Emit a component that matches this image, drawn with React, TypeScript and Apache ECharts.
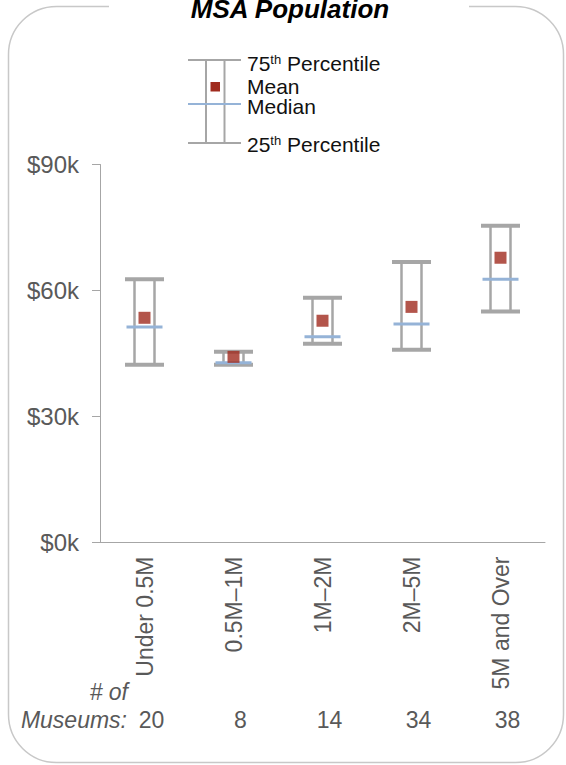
import React, { useEffect, useRef } from "react";
import * as echarts from "echarts";

const categories = ["Under 0.5M", "0.5M–1M", "1M–2M", "2M–5M", "5M and Over"];
const p25 = [42.3, 42.3, 47.3, 45.9, 55.0];
const p75 = [62.7, 45.4, 58.3, 66.8, 75.4];
const median = [51.3, 42.8, 49.0, 52.0, 62.7];
const mean = [53.5, 44.2, 52.8, 56.1, 67.8];
const counts = ["20", "8", "14", "34", "38"];
const yTicks = [0, 30, 60, 90];

const FONT = "Arial, 'Liberation Sans', sans-serif";
const GRAY_TXT = "#595959";
const BOX = "#a6a6a6";
const MED = "#95b3d7";
const MEAN = "#a02b1e";

export default function App() {
  const ref = useRef<HTMLDivElement>(null);
  useEffect(() => {
    document.body.style.margin = "0";
    const chart = echarts.init(ref.current!, null, { renderer: "svg" });
    const legendX = 188;
    const option: any = {
      animation: false,
      backgroundColor: "#ffffff",
      grid: { left: 100, right: 21, top: 164.5, bottom: 222.5 },
      xAxis: [
        {
          type: "category",
          data: categories,
          axisLine: { show: true, lineStyle: { color: BOX, width: 1 } },
          axisTick: { show: false },
          axisLabel: {
            rotate: 90,
            margin: 14,
            fontSize: 23,
            color: GRAY_TXT,
            fontFamily: FONT,
          },
        },
        {
          type: "category",
          position: "bottom",
          offset: 166,
          data: counts,
          axisLine: { show: false },
          axisTick: { show: false },
          axisLabel: {
            margin: 0,
            fontSize: 23,
            color: GRAY_TXT,
            fontFamily: FONT,
            padding: [0, 0, 0, 14],
          },
        },
      ],
      yAxis: {
        type: "value",
        min: yTicks[0],
        max: yTicks[yTicks.length - 1],
        interval: 30,
        splitLine: { show: false },
        axisLine: { show: true, lineStyle: { color: BOX, width: 1 } },
        axisTick: { show: true, length: 8, lineStyle: { color: BOX } },
        axisLabel: {
          margin: 21,
          fontSize: 24,
          color: GRAY_TXT,
          fontFamily: FONT,
          formatter: (v: number) => "$" + v + "k",
        },
      },
      series: [
        {
          type: "custom",
          xAxisIndex: 0,
          data: categories.map((c, i) => [i, p25[i], p75[i], median[i]]),
          encode: { x: 0, y: [1, 2, 3] },
          renderItem: (params: any, api: any) => {
            const x = api.value(0);
            const lo = api.coord([x, api.value(1)]);
            const hi = api.coord([x, api.value(2)]);
            const md = api.coord([x, api.value(3)]);
            const cx = hi[0];
            return {
              type: "group",
              children: [
                { type: "line", shape: { x1: cx - 10, y1: hi[1], x2: cx - 10, y2: lo[1] }, style: { stroke: BOX, lineWidth: 2.5 } },
                { type: "line", shape: { x1: cx + 10, y1: hi[1], x2: cx + 10, y2: lo[1] }, style: { stroke: BOX, lineWidth: 2.5 } },
                { type: "line", shape: { x1: cx - 19.5, y1: hi[1], x2: cx + 19.5, y2: hi[1] }, style: { stroke: BOX, lineWidth: 4 } },
                { type: "line", shape: { x1: cx - 19.5, y1: lo[1], x2: cx + 19.5, y2: lo[1] }, style: { stroke: BOX, lineWidth: 4 } },
                { type: "line", shape: { x1: cx - 18, y1: md[1], x2: cx + 18, y2: md[1] }, style: { stroke: MED, lineWidth: 3 } },
              ],
            };
          },
          z: 2,
        },
        {
          type: "scatter",
          xAxisIndex: 0,
          data: mean,
          symbol: "rect",
          symbolSize: 12,
          itemStyle: { color: MEAN },
          z: 3,
        },
      ],
      graphic: [
        {
          type: "rect",
          shape: { x: 8.5, y: 6.5, width: 555, height: 756, r: 48 },
          style: { fill: "none", stroke: "#c8c8c8", lineWidth: 1.5 },
          silent: true,
        },
        {
          type: "rect",
          shape: { x: 109, y: 0, width: 360, height: 14 },
          style: { fill: "#ffffff" },
          silent: true,
        },
        {
          type: "text",
          x: 290,
          y: 9,
          style: {
            text: "MSA Population",
            font: "italic bold 26px " + FONT,
            fill: "#000000",
            textAlign: "center",
            textVerticalAlign: "middle",
          },
        },
        // legend
        { type: "line", shape: { x1: legendX, y1: 60, x2: legendX + 53, y2: 60 }, style: { stroke: BOX, lineWidth: 2 } },
        { type: "line", shape: { x1: legendX, y1: 143, x2: legendX + 53, y2: 143 }, style: { stroke: BOX, lineWidth: 2 } },
        { type: "line", shape: { x1: 206, y1: 60, x2: 206, y2: 143 }, style: { stroke: BOX, lineWidth: 2 } },
        { type: "line", shape: { x1: 224.5, y1: 60, x2: 224.5, y2: 143 }, style: { stroke: BOX, lineWidth: 2 } },
        { type: "line", shape: { x1: legendX, y1: 104, x2: legendX + 53, y2: 104 }, style: { stroke: MED, lineWidth: 2 } },
        { type: "rect", shape: { x: 210.5, y: 82, width: 9.5, height: 9.5 }, style: { fill: MEAN } },
        {
          type: "text",
          x: 247,
          y: 63,
          style: {
            text: "{a|75}{s|th}{a| Percentile}",
            textVerticalAlign: "middle",
            rich: {
              a: { fontSize: 21, fontFamily: FONT, fill: "#111111" },
              s: { fontSize: 13, fontFamily: FONT, fill: "#111111", verticalAlign: "top" },
            },
          },
        },
        {
          type: "text",
          x: 247,
          y: 86.6,
          style: { text: "Mean", fontSize: 21, fontFamily: FONT, fill: "#111111", textVerticalAlign: "middle" },
        },
        {
          type: "text",
          x: 247,
          y: 106.5,
          style: { text: "Median", fontSize: 21, fontFamily: FONT, fill: "#111111", textVerticalAlign: "middle" },
        },
        {
          type: "text",
          x: 247,
          y: 144,
          style: {
            text: "{a|25}{s|th}{a| Percentile}",
            textVerticalAlign: "middle",
            rich: {
              a: { fontSize: 21, fontFamily: FONT, fill: "#111111" },
              s: { fontSize: 13, fontFamily: FONT, fill: "#111111", verticalAlign: "top" },
            },
          },
        },
        // bottom row captions
        {
          type: "text",
          x: 128,
          y: 692,
          style: {
            text: "# of",
            font: "italic 23px " + FONT,
            fill: GRAY_TXT,
            textAlign: "right",
            textVerticalAlign: "middle",
          },
        },
        {
          type: "text",
          x: 127,
          y: 720,
          style: {
            text: "Museums:",
            font: "italic 23px " + FONT,
            fill: GRAY_TXT,
            textAlign: "right",
            textVerticalAlign: "middle",
          },
        },
      ],
    };
    chart.setOption(option);
    return () => chart.dispose();
  }, []);
  return <div ref={ref} style={{ width: 566, height: 765 }} />;
}
